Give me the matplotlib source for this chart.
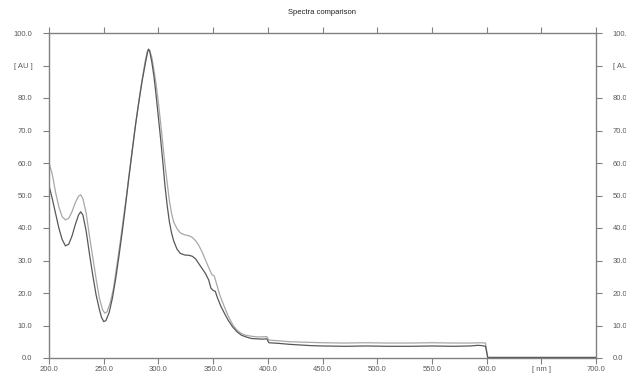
import numpy as np
import matplotlib
matplotlib.use("Agg")
import matplotlib.pyplot as plt

plt.rcParams["font.family"] = ["Liberation Sans", "DejaVu Sans"]

################################
# DATA
################################

# spectrum 1 (light grey, upper curve)
wl_a = [200, 203, 206, 209, 212, 215, 218, 221, 224, 227, 229, 231, 234, 237,
        240, 243, 246, 249, 251, 253, 256, 259, 262, 265, 268, 271, 274, 277,
        280, 283, 286, 288, 290, 291, 292, 294, 296, 298, 300, 302, 304, 306,
        308, 310, 312, 314, 317, 320, 324, 328, 331, 334, 337, 340, 343, 346,
        349, 351, 353, 356, 360, 364, 368, 372, 376, 380, 385, 390, 395, 399,
        401, 410, 420, 430, 440, 450, 470, 490, 510, 530, 550, 570, 585, 595,
        599, 601, 620, 650, 680, 700]
ab_a = [60.0, 56.5, 51.0, 46.5, 43.5, 42.5, 43.0, 45.0, 47.8, 49.8, 50.2, 49.0,
        44.5, 37.5, 31.0, 24.5, 18.5, 14.8, 13.8, 14.2, 17.0, 21.5, 28.5, 35.5,
        43.0, 50.5, 58.5, 66.5, 74.0, 81.0, 87.5, 91.5, 94.5, 95.0, 94.6, 92.5,
        88.5, 84.0, 78.5, 72.5, 66.0, 59.5, 54.0, 48.5, 44.5, 41.8, 39.8, 38.5,
        37.9, 37.6, 37.1, 36.1, 34.6, 32.6, 30.2, 27.8, 25.6, 25.3, 23.0, 19.5,
        16.0, 12.8, 10.2, 8.5, 7.5, 7.0, 6.7, 6.5, 6.5, 6.6, 5.5, 5.3, 5.0, 4.9,
        4.8, 4.7, 4.6, 4.7, 4.6, 4.6, 4.7, 4.6, 4.6, 4.7, 4.6, 0.2, 0.2, 0.2,
        0.2, 0.2]

# spectrum 2 (dark grey, lower curve)
wl_b = [200, 203, 206, 209, 212, 215, 218, 221, 224, 227, 229, 231, 234, 237,
        240, 243, 246, 248, 250, 252, 255, 258, 261, 264, 267, 270, 273, 276,
        279, 282, 285, 288, 290, 291, 292, 294, 296, 298, 300, 302, 304, 306,
        308, 310, 312, 314, 317, 320, 324, 328, 331, 334, 337, 340, 343, 346,
        348, 350, 352, 354, 357, 360, 364, 368, 372, 376, 380, 385, 390, 395,
        399, 401, 410, 420, 430, 440, 450, 470, 490, 510, 530, 550, 570, 585,
        592, 596, 599, 601, 620, 650, 680, 700]
ab_b = [53.0, 49.0, 44.5, 40.0, 36.5, 34.5, 35.0, 37.5, 41.0, 44.0, 45.0, 44.0,
        39.0, 32.0, 25.5, 19.5, 15.0, 12.5, 11.2, 11.5, 14.0, 18.5, 24.5, 31.5,
        39.0, 47.0, 55.5, 63.5, 71.5, 78.5, 85.0, 90.5, 94.0, 95.0, 94.5, 91.0,
        86.5, 80.5, 74.0, 67.5, 60.5, 53.0, 47.0, 42.0, 38.5, 36.0, 33.5, 32.2,
        31.7, 31.6, 31.3, 30.5, 29.0, 27.5, 26.0, 24.0, 21.5, 20.8, 20.5, 18.5,
        16.0, 14.0, 11.5, 9.5, 8.0, 7.0, 6.5, 6.0, 5.9, 5.8, 5.9, 4.7, 4.5, 4.2,
        4.0, 3.8, 3.7, 3.6, 3.7, 3.6, 3.6, 3.7, 3.6, 3.7, 3.9, 3.8, 3.6, 0.15,
        0.15, 0.15, 0.15, 0.15]

x_ticks = [200, 250, 300, 350, 400, 450, 500, 550, 600, 650, 700]
x_labels = ["200.0", "250.0", "300.0", "350.0", "400.0", "450.0", "500.0",
            "550.0", "600.0", "[ nm ]", "700.0"]
y_ticks = [0, 10, 20, 30, 40, 50, 60, 70, 80, 90, 100]
y_labels = ["0.0", "10.0", "20.0", "30.0", "40.0", "50.0", "60.0", "70.0",
            "80.0", "[ AU ]", "100.0"]

################################
# PLOT
################################

axis_grey = "#808080"
text_grey = "#5a5a5a"

fig = plt.figure(figsize=(6.26, 3.75), dpi=100)
ax = fig.add_axes([49 / 626, 17 / 375, 547 / 626, 325 / 375])

ax.plot(wl_a, ab_a, color="#a8a8a8", linewidth=0.9)
ax.plot(wl_b, ab_b, color="#585858", linewidth=0.9)

ax.set_xlim(200, 700)
ax.set_ylim(0, 100)

ax.set_xticks(x_ticks)
ax.set_xticklabels(x_labels)
ax.set_yticks(y_ticks)
ax.set_yticklabels(y_labels)

for spine in ax.spines.values():
    spine.set_color(axis_grey)
    spine.set_linewidth(1.0)

ax.tick_params(axis="both", direction="out", length=4, width=0.8,
               color=axis_grey, labelcolor=text_grey, labelsize=5.5)
ax.tick_params(axis="y", left=True, right=True, labelleft=True,
               labelright=True, pad=8)
ax.tick_params(axis="x", bottom=True, top=True, labelbottom=True,
               labeltop=False, pad=2)

ax.set_title("Spectra comparison", fontsize=5.5, color="#222222", pad=14)

plt.savefig("out.png", dpi=100)
plt.close()
